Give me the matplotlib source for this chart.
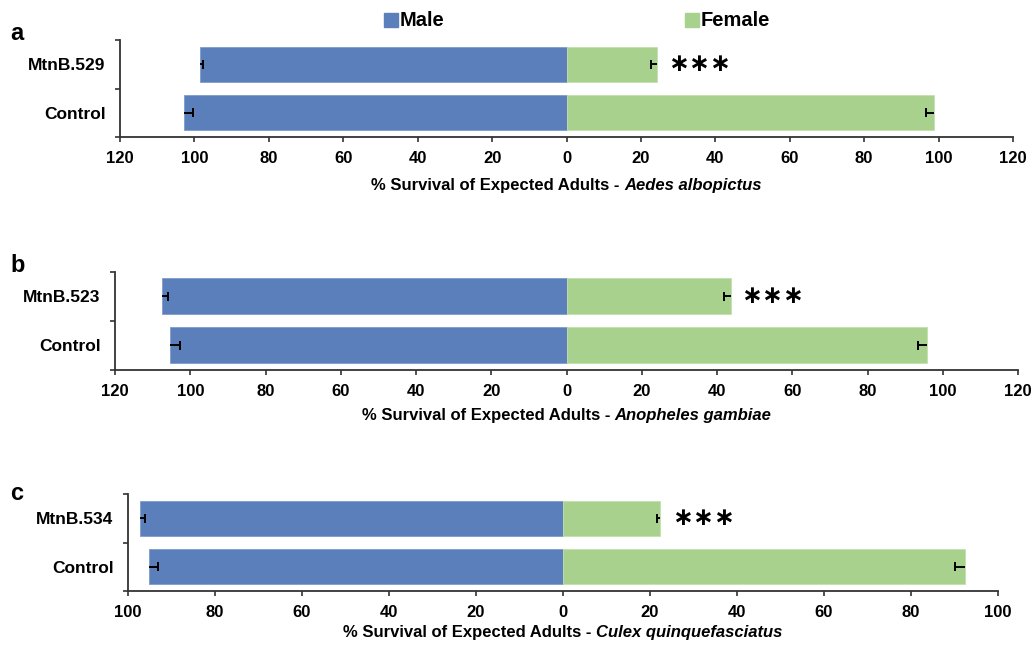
import matplotlib
matplotlib.use("Agg")
import matplotlib.pyplot as plt
from matplotlib.patches import Rectangle

# ---------------- data ----------------
panels = ["a", "b", "c"]
strains = ["MtnB.529", "MtnB.523", "MtnB.534"]
species = ["Aedes albopictus", "Anopheles gambiae", "Culex quinquefasciatus"]
# order within each panel: [Control, MtnB]
male_vals = [[102.7, 98.6], [105.3, 107.4], [95.2, 97.2]]
male_err = [[2.4, 1.0], [2.6, 1.6], [2.1, 1.2]]
female_vals = [[98.7, 24.4], [95.9, 43.6], [92.3, 22.2]]
female_err = [[2.2, 1.8], [2.6, 1.8], [2.3, 0.7]]
xlims = [120, 120, 100]
tick_steps = [20, 20, 20]
signif = ["***", "***", "***"]

# ---------------- style ----------------
BLUE = "#5B7FBA"
GREEN = "#A9D18E"
FONT = "Liberation Sans"
plt.rcParams["font.family"] = [FONT, "DejaVu Sans"]

W, H = 1035, 646
fig = plt.figure(figsize=(W / 100, H / 100), dpi=100)

# axes boxes in pixels: left, right, top, bottom
boxes = [(120, 1013, 40, 137), (115, 1018, 271.7, 370), (128, 998, 494, 591)]
label_pos = [(10, 33), (10, 266), (10, 493)]
xlabel_y = [-0.495, -0.46, -0.43]

axes = []
label_parts = []
for i in range(3):
    l, r, t, b = boxes[i]
    ax = fig.add_axes([l / W, 1 - b / H, (r - l) / W, (b - t) / H])
    axes.append(ax)
    cats = ["Control", strains[i]]
    ypos = list(range(len(cats)))
    mv = [-v for v in male_vals[i]]
    ax.barh(ypos, mv, height=0.73, color=BLUE, edgecolor="#7E9CCB", linewidth=0.6)
    ax.barh(ypos, female_vals[i], height=0.73, color=GREEN, edgecolor="#C3E0AE", linewidth=0.6)
    # one-sided inner error bars
    cap = 0.09
    for y, v, e in zip(ypos, male_vals[i], male_err[i]):
        ax.hlines(y, -v, -(v - e), color="black", lw=1.4)
        ax.vlines(-(v - e), y - cap, y + cap, color="black", lw=1.4)
    for y, v, e in zip(ypos, female_vals[i], female_err[i]):
        ax.hlines(y, v - e, v, color="black", lw=1.4)
        ax.vlines(v - e, y - cap, y + cap, color="black", lw=1.4)
    # significance stars
    ax.text(female_vals[i][1] + 2.8, 1, "\u2217\u2217\u2217", family="DejaVu Sans",
            fontweight="bold", fontsize=18, ha="left", va="center")

    lim = xlims[i]
    ax.set_xlim(-lim, lim)
    ax.set_ylim(-0.5, 1.5)
    ticks = list(range(-lim, lim + 1, tick_steps[i]))
    ax.set_xticks(ticks, [str(abs(tk)) for tk in ticks])
    ax.set_yticks([-0.5, 0.5, 1.5], ["", "", ""])
    ax.set_yticks(ypos, cats, minor=True)
    ax.tick_params(axis="x", direction="out", length=3.5, width=1.2, pad=6.5,
                   labelsize=12, color="#333333")
    ax.tick_params(axis="y", which="major", direction="out", length=3.5, width=1.2,
                   color="#333333")
    ax.tick_params(axis="y", which="minor", length=0, pad=10.5, labelsize=12.5)
    for lab in ax.get_xticklabels() + ax.get_yticklabels(minor=True):
        lab.set_fontweight("bold")
    for s in ["top", "right"]:
        ax.spines[s].set_visible(False)
    for s in ["left", "bottom"]:
        ax.spines[s].set_linewidth(1.3)
        ax.spines[s].set_color("#333333")

    # x label: bold normal + bold italic species
    t1 = ax.text(0.5, xlabel_y[i], "% Survival of Expected Adults - ", transform=ax.transAxes,
                 fontsize=12, fontweight="bold", ha="left", va="center")
    t2 = ax.annotate(species[i], xy=(1, 0), xycoords=t1, fontsize=12,
                     fontweight="bold", fontstyle="italic", ha="left", va="bottom")
    label_parts.append((ax, t1, t2))

    fig.text(label_pos[i][0] / W, 1 - label_pos[i][1] / H, panels[i], fontsize=17,
             fontweight="bold", ha="left", va="center")

# center the composite x labels
fig.canvas.draw()
rend = fig.canvas.get_renderer()
for ax, t1, t2 in label_parts:
    b1 = t1.get_window_extent(rend)
    b2 = t2.get_window_extent(rend)
    total = b2.x1 - b1.x0
    axb = ax.get_window_extent(rend)
    cx = (axb.x0 + axb.x1) / 2
    new_x0 = cx - total / 2
    xa = (new_x0 - axb.x0) / axb.width
    t1.set_x(xa)

# legend
legend_items = [("Male", BLUE, 384), ("Female", GREEN, 685)]
for name, col, px in legend_items:
    fig.patches.append(Rectangle((px / W, 1 - 27 / H), 14 / W, 14 / H, color=col,
                                 transform=fig.transFigure, figure=fig))
    fig.text((px + 16) / W, 1 - 20 / H, name, fontsize=14.5, fontweight="bold",
             ha="left", va="center")

fig.savefig("out.png", dpi=100)
